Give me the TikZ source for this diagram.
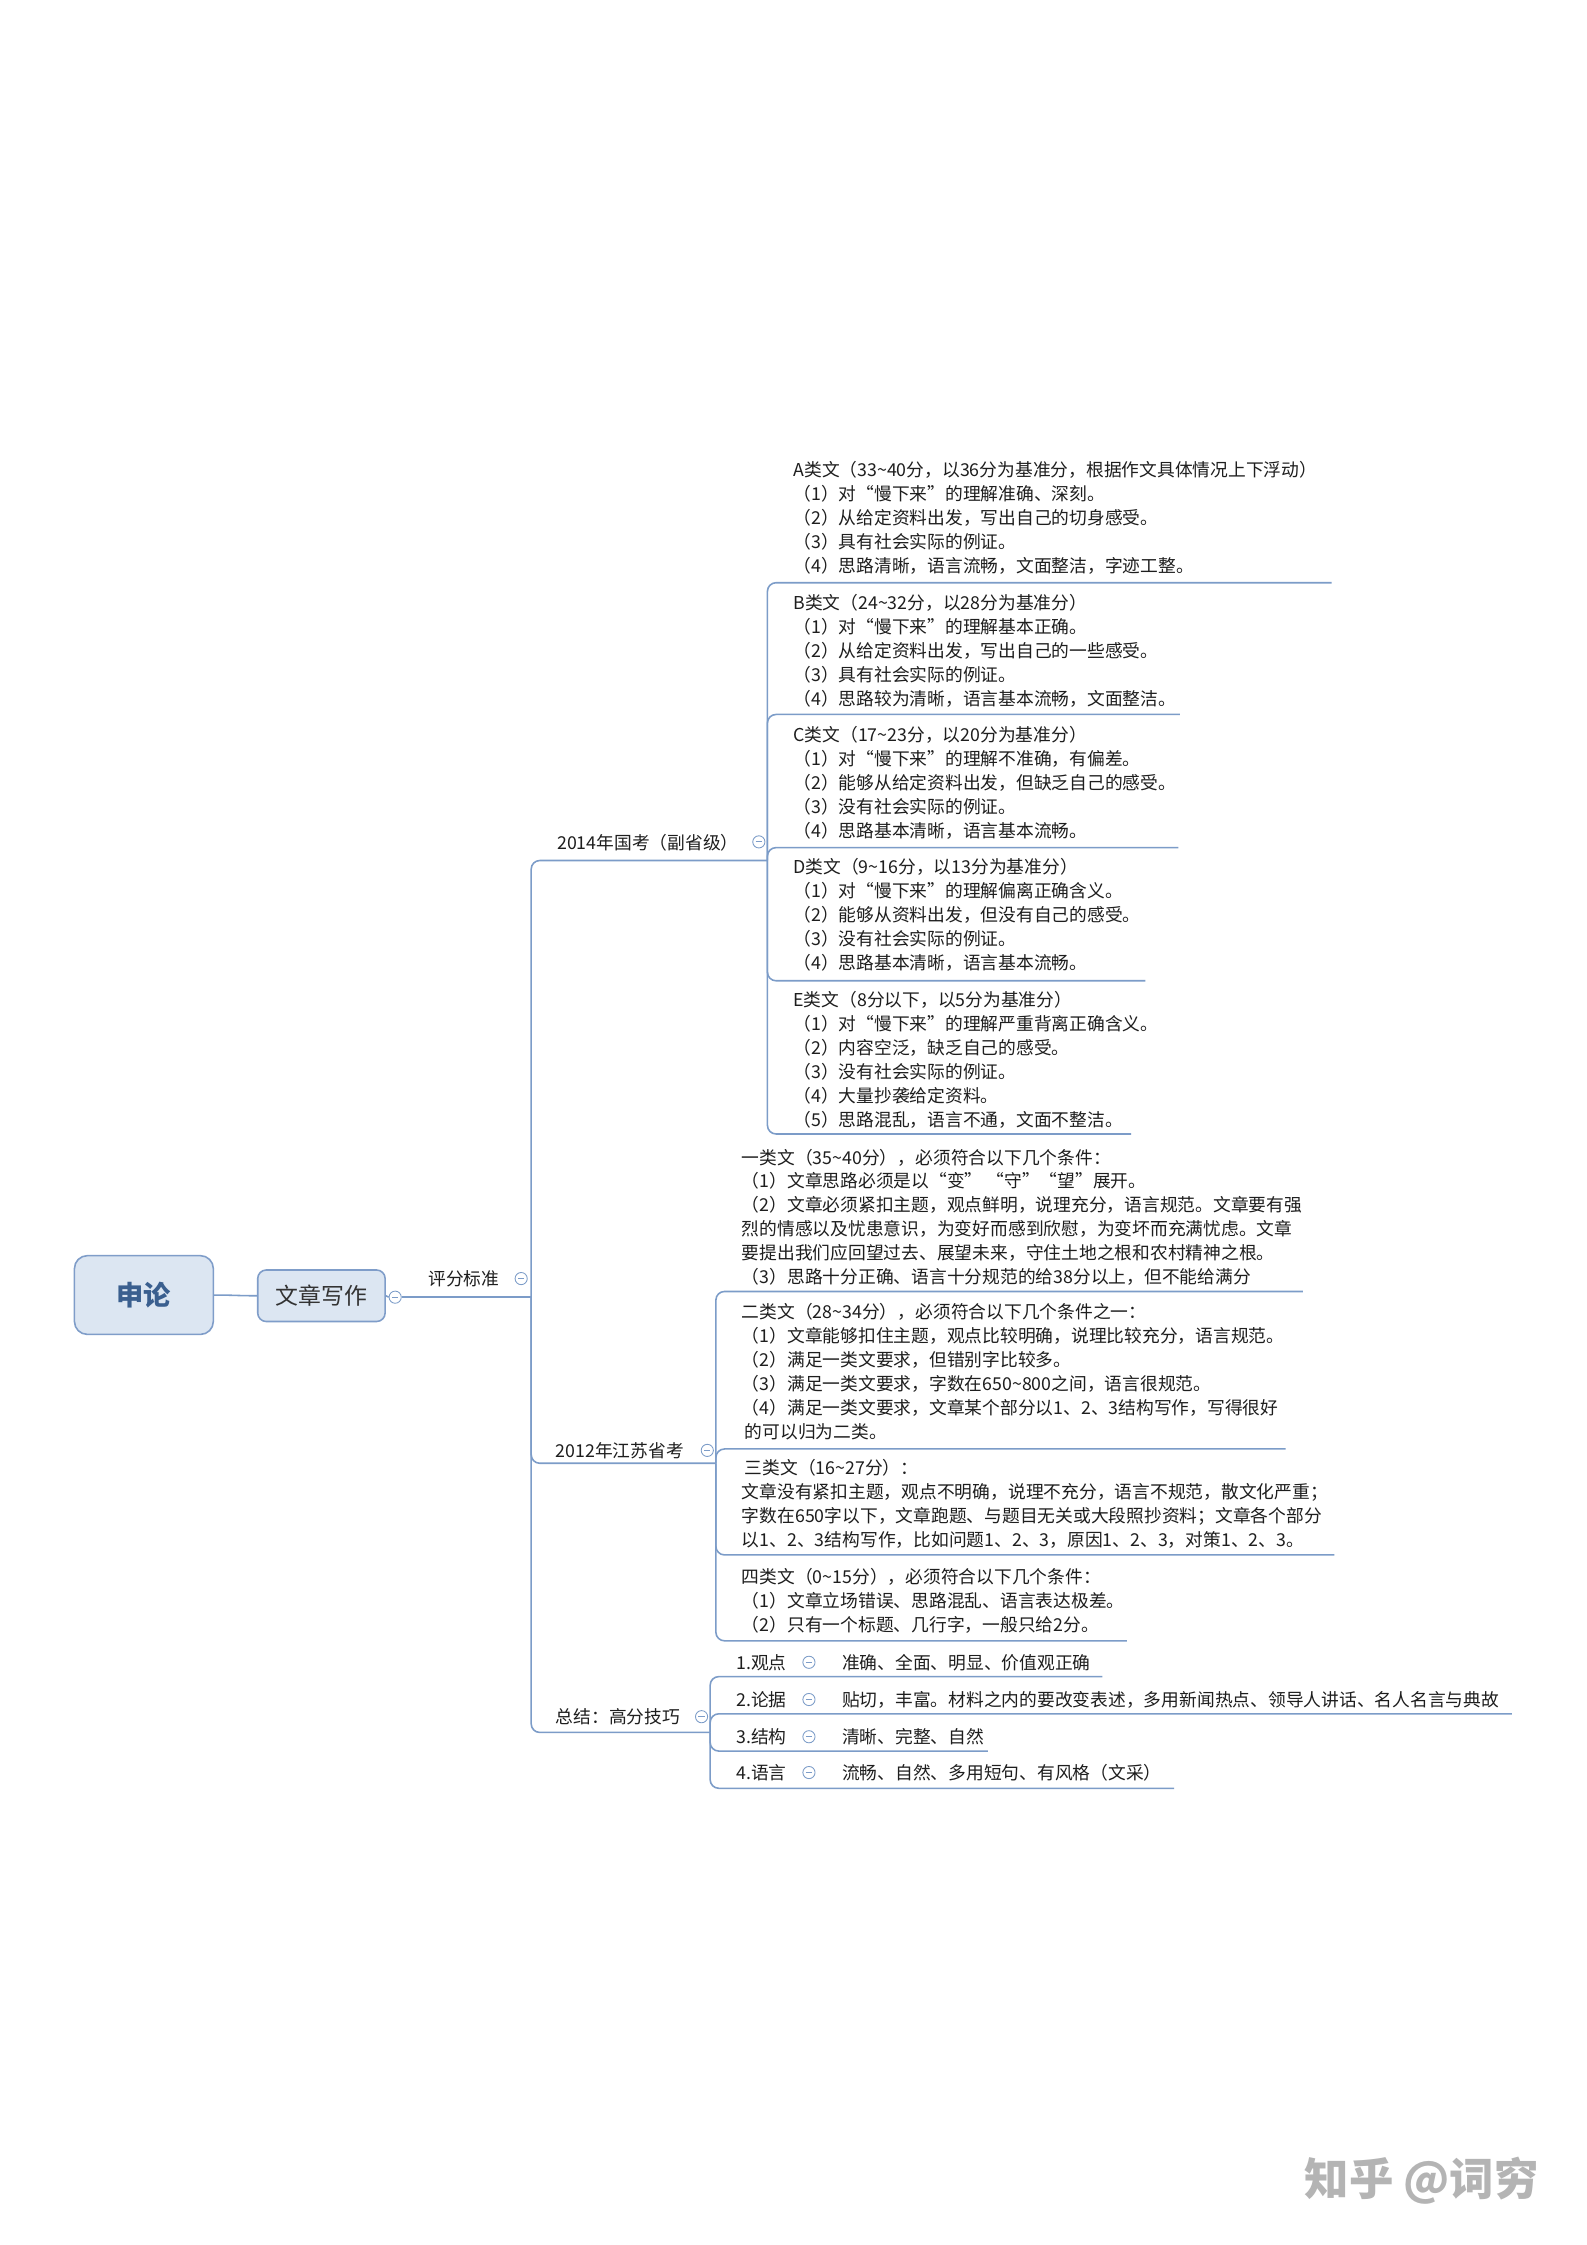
\documentclass[tikz,border=0pt]{standalone}
\usepackage{fontspec}
\setmainfont{Noto Sans CJK SC}
\definecolor{lineblue}{HTML}{7C9CC8}
\definecolor{boxline}{HTML}{7F9DC9}
\definecolor{boxfill}{HTML}{DCE6F2}
\definecolor{rootblue}{HTML}{3A5F8F}
\definecolor{txt}{HTML}{1E1E1E}
\definecolor{subtxt}{HTML}{333333}
\definecolor{wmgray}{HTML}{B4B4B4}
\newcommand\bodyfont{\fontsize{12.4}{16.7}\selectfont}
\newcommand\mlines[1]{\vtop{\halign{##\hfil\cr#1\crcr}}}
\newcommand\tld{\textasciitilde}
\tikzset{
  link/.style={draw=lineblue, line width=1.1pt, rounded corners=6pt},
  body/.style={anchor=base west, inner sep=0pt, text=txt, font=\bodyfont},
  rootbox/.style={draw=boxline, fill=boxfill, rounded corners=9pt, line width=1.1pt,
    minimum width=97pt, minimum height=55pt, inner sep=0pt, text=rootblue,
    font=\fontsize{19}{23}\selectfont\bfseries},
  subbox/.style={draw=boxline, fill=boxfill, rounded corners=6pt, line width=1.1pt,
    minimum width=89pt, minimum height=36pt, inner sep=0pt, text=subtxt,
    font=\fontsize{16}{20}\selectfont},
  collapse/.style={circle, draw=lineblue, fill=white, line width=0.6pt,
    minimum size=8.5pt, inner sep=0pt,
    path picture={\draw[lineblue, line width=0.6pt]
      ([xshift=-2.2pt]path picture bounding box.center) --
      ([xshift=2.2pt]path picture bounding box.center);}},
}
\begin{document}
\begin{tikzpicture}[x=1pt,y=-1pt]
\useasboundingbox[fill=white] (0,0) rectangle (1108,1568);

% ---------- root and first level ----------
\node[rootbox] (root) at (100.5,904.5) {申论};
\node[subbox] (wz) at (224.5,905) {文章写作};
\draw[link] (root.east) .. controls +(14,0) and +(-14,0) .. (wz.west);
\node[collapse] (c0) at (276,906) {};
\draw[link] (wz.east) -- (c0.west);
\coordinate (j0) at (371,906);
\draw[link] (c0.east) -- (j0);
\node[body] (pf) at (299,898) {评分标准};
\node[collapse] (cpf) at (364,893) {};

% ---------- second level ----------
\coordinate (j2014) at (536,601);
\coordinate (j2012) at (500,1022);
\coordinate (jzj) at (496,1210);
\draw[link] (j0) |- (j2014);
\draw[link] (j0) |- (j2012);
\draw[link] (j0) |- (jzj);
\node[body] (l2014) at (389,593) {2014年国考（副省级）};
\node[collapse] (c2014) at (530,588) {};
\node[body] (l2012) at (388,1018) {2012年江苏省考};
\node[collapse] (c2012) at (494,1013) {};
\node[body] (lzj) at (388,1204) {总结：高分技巧};
\node[collapse] (czj) at (490,1199) {};

% ---------- 2014 children ----------
\coordinate (eA) at (930,407);
\coordinate (eB) at (824,499);
\coordinate (eC) at (823,592);
\coordinate (eD) at (800,685);
\coordinate (eE) at (790,792);
\foreach \e in {eA,eB,eC,eD,eE} \draw[link] (j2014) |- (\e);

\node[body] (tA) at (554,333) {\mlines{%
A类文（33\tld40分，以36分为基准分，根据作文具体情况上下浮动）\cr
（1）对“慢下来”的理解准确、深刻。\cr
（2）从给定资料出发，写出自己的切身感受。\cr
（3）具有社会实际的例证。\cr
（4）思路清晰，语言流畅，文面整洁，字迹工整。}};
\node[body] (tB) at (554,426) {\mlines{%
B类文（24\tld32分，以28分为基准分）\cr
（1）对“慢下来”的理解基本正确。\cr
（2）从给定资料出发，写出自己的一些感受。\cr
（3）具有社会实际的例证。\cr
（4）思路较为清晰，语言基本流畅，文面整洁。}};
\node[body] (tC) at (554,518) {\mlines{%
C类文（17\tld23分，以20分为基准分）\cr
（1）对“慢下来”的理解不准确，有偏差。\cr
（2）能够从给定资料出发，但缺乏自己的感受。\cr
（3）没有社会实际的例证。\cr
（4）思路基本清晰，语言基本流畅。}};
\node[body] (tD) at (554,610) {\mlines{%
D类文（9\tld16分，以13分为基准分）\cr
（1）对“慢下来”的理解偏离正确含义。\cr
（2）能够从资料出发，但没有自己的感受。\cr
（3）没有社会实际的例证。\cr
（4）思路基本清晰，语言基本流畅。}};
\node[body] (tE) at (554,703) {\mlines{%
E类文（8分以下，以5分为基准分）\cr
（1）对“慢下来”的理解严重背离正确含义。\cr
（2）内容空泛，缺乏自己的感受。\cr
（3）没有社会实际的例证。\cr
（4）大量抄袭给定资料。\cr
（5）思路混乱，语言不通，文面不整洁。}};

% ---------- 2012 children ----------
\coordinate (e1) at (910,902);
\coordinate (e2) at (898,1012);
\coordinate (e3) at (932,1086);
\coordinate (e4) at (787,1146);
\foreach \e in {e1,e2,e3,e4} \draw[link] (j2012) |- (\e);

\node[body] (t1) at (518,813) {\mlines{%
一类文（35\tld40分），必须符合以下几个条件：\cr
（1）文章思路必须是以“变” “守”“望”展开。\cr
（2）文章必须紧扣主题，观点鲜明，说理充分，语言规范。文章要有强\cr
烈的情感以及忧患意识，为变好而感到欣慰，为变坏而充满忧虑。文章\cr
要提出我们应回望过去、展望未来，守住土地之根和农村精神之根。\cr
（3）思路十分正确、语言十分规范的给38分以上，但不能给满分}};
\node[body] (t2) at (518,921) {\mlines{%
二类文（28\tld34分），必须符合以下几个条件之一：\cr
（1）文章能够扣住主题，观点比较明确，说理比较充分，语言规范。\cr
（2）满足一类文要求，但错别字比较多。\cr
（3）满足一类文要求，字数在650\tld800之间，语言很规范。\cr
（4）满足一类文要求，文章某个部分以1、2、3结构写作，写得很好\cr
\hspace{2pt}的可以归为二类。}};
\node[body] (t3) at (518,1030) {\mlines{%
\hspace{2pt}三类文（16\tld27分）：\cr
文章没有紧扣主题，观点不明确，说理不充分，语言不规范，散文化严重；\cr
字数在650字以下，文章跑题、与题目无关或大段照抄资料；文章各个部分\cr
以1、2、3结构写作，比如问题1、2、3，原因1、2、3，对策1、2、3。}};
\node[body] (t4) at (518,1106) {\mlines{%
四类文（0\tld15分），必须符合以下几个条件：\cr
（1）文章立场错误、思路混乱、语言表达极差。\cr
（2）只有一个标题、几行字，一般只给2分。}};

% ---------- summary children ----------
\coordinate (s1) at (770,1171);
\coordinate (s2) at (1056,1197);
\coordinate (s3) at (690,1223);
\coordinate (s4) at (820,1249);
\foreach \e in {s1,s2,s3,s4} \draw[link] (jzj) |- (\e);

\node[body] (k1) at (514,1166) {1.观点};
\node[collapse] (ck1) at (565,1161) {};
\node[body] (v1) at (588,1166) {准确、全面、明显、价值观正确};
\node[body] (k2) at (514,1192) {2.论据};
\node[collapse] (ck2) at (565,1187) {};
\node[body] (v2) at (588,1192) {贴切，丰富。材料之内的要改变表述，多用新闻热点、领导人讲话、名人名言与典故};
\node[body] (k3) at (514,1218) {3.结构};
\node[collapse] (ck3) at (565,1213) {};
\node[body] (v3) at (588,1218) {清晰、完整、自然};
\node[body] (k4) at (514,1243) {4.语言};
\node[collapse] (ck4) at (565,1238) {};
\node[body] (v4) at (588,1243) {流畅、自然、多用短句、有风格（文采）};

% ---------- watermark ----------
\node[inner sep=0pt, text=wmgray, font=\fontsize{31}{31}\selectfont\bfseries] (wm) at (993,1523) {知乎 @词穷};
\end{tikzpicture}
\end{document}
